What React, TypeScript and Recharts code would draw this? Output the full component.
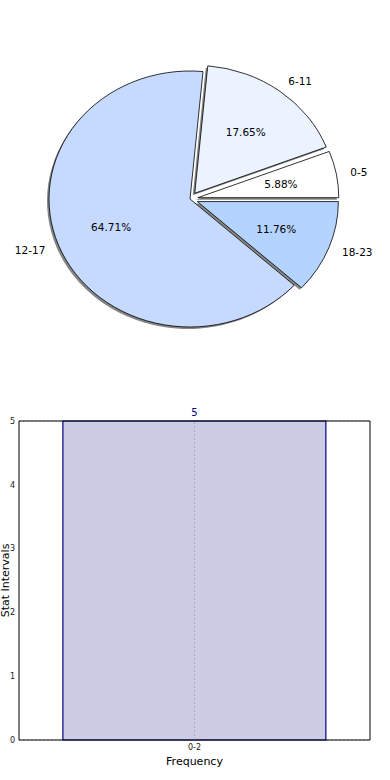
import React from 'react';
import {
  PieChart, Pie, BarChart, Bar, Line, XAxis, YAxis, CartesianGrid, LabelList, ReferenceLine,
} from 'recharts';

const categories = ['0-5', '6-11', '12-17', '18-23'];
const counts = [1, 3, 11, 2];
const barCategories = ['0-2'];
const barValues = [5];
const yTicks = [0, 1, 2, 3, 4, 5];

const sliceColors = ['#ffffff', '#ebf3ff', '#c6d9ff', '#b4d4ff'];
const explodeFrac = [0.056, 0.056, 0, 0.056];
const RX = 141;
const RY_RATIO = 128 / 141;
const CX = 190;
const CY = 199;
const SHADOW_DX = -2;
const SHADOW_DY = 2;
const FONT = '"DejaVu Sans", sans-serif';

const pieData = categories.map((name, i) => ({ name, value: counts[i] }));
const total = counts.reduce((a, b) => a + b, 0);
const barData = barCategories.map((name, i) => ({ name, value: barValues[i] }));

const RAD = Math.PI / 180;

function idxOf(p: any): number {
  const n = p?.name ?? p?.payload?.name;
  return categories.indexOf(n);
}

function explodeOffset(i: number, mid: number, rx: number) {
  const d = explodeFrac[i] * rx;
  return { ox: d * Math.cos(mid * RAD), oy: -d * RY_RATIO * Math.sin(mid * RAD) };
}

function ellipsePath(cx: number, cy: number, rx: number, ry: number, a0: number, a1: number) {
  const x0 = cx + rx * Math.cos(a0 * RAD);
  const y0 = cy - ry * Math.sin(a0 * RAD);
  const x1 = cx + rx * Math.cos(a1 * RAD);
  const y1 = cy - ry * Math.sin(a1 * RAD);
  const large = Math.abs(a1 - a0) > 180 ? 1 : 0;
  return `M${cx},${cy} L${x0},${y0} A${rx},${ry} 0 ${large} 0 ${x1},${y1} Z`;
}

function sectorGeom(p: any) {
  const i = idxOf(p);
  const a0 = p.startAngle;
  const a1 = p.endAngle;
  const mid = (a0 + a1) / 2;
  const rx = p.outerRadius;
  const { ox, oy } = explodeOffset(i, mid, rx);
  return { i, a0, a1, mid, rx, cx: p.cx + ox, cy: p.cy + oy };
}

const ShadowShape = (p: any) => {
  const g = sectorGeom(p);
  return (
    <path
      d={ellipsePath(g.cx + SHADOW_DX, g.cy + SHADOW_DY, g.rx, g.rx * RY_RATIO, g.a0, g.a1)}
      fill="#858585"
      stroke="none"
    />
  );
};

const SliceShape = (p: any) => {
  const g = sectorGeom(p);
  return (
    <path
      d={ellipsePath(g.cx, g.cy, g.rx, g.rx * RY_RATIO, g.a0, g.a1)}
      fill={sliceColors[g.i]}
      stroke="#000"
      strokeWidth={0.8}
      strokeLinejoin="miter"
    />
  );
};

const renderLabel = (p: any) => {
  const i = idxOf(p);
  const mid = p.midAngle;
  const rx = p.outerRadius;
  const ry = rx * RY_RATIO;
  const { ox, oy } = explodeOffset(i, mid, rx);
  const cx = p.cx + ox;
  const cy = p.cy + oy;
  const c = Math.cos(mid * RAD);
  const s = Math.sin(mid * RAD);
  const lx = cx + 1.1 * rx * c;
  const ly = cy - 1.1 * ry * s;
  const px = cx + 0.6 * rx * c;
  const py = cy - 0.6 * ry * s;
  const pct = ((counts[i] / total) * 100).toFixed(2) + '%';
  return (
    <g>
      <text x={lx} y={ly} textAnchor={c >= 0 ? 'start' : 'end'} dominantBaseline="central"
        fontSize={10.5} fontFamily={FONT} fill="#000">{categories[i]}</text>
      <text x={px} y={py} textAnchor="middle" dominantBaseline="central"
        fontSize={10.5} fontFamily={FONT} fill="#000">{pct}</text>
    </g>
  );
};

export default function App() {
  return (
    <div style={{ position: 'absolute', left: 0, top: 0, width: 390, height: 780, background: '#fff' }}>
      <div style={{ position: 'absolute', left: 0, top: 0 }}>
        <PieChart width={390} height={390} margin={{ top: 0, right: 0, bottom: 0, left: 0 }}>
          <Pie
            data={pieData}
            dataKey="value"
            nameKey="name"
            cx={CX}
            cy={CY}
            outerRadius={RX}
            startAngle={0}
            endAngle={360}
            isAnimationActive={false}
            shape={ShadowShape}
            labelLine={false}
            stroke="none"
          />
          <Pie
            data={pieData}
            dataKey="value"
            nameKey="name"
            cx={CX}
            cy={CY}
            outerRadius={RX}
            startAngle={0}
            endAngle={360}
            isAnimationActive={false}
            shape={SliceShape}
            label={renderLabel}
            labelLine={false}
          />
        </PieChart>
      </div>
      <div style={{ position: 'absolute', left: 0, top: 400 }}>
        <BarChart
          width={390}
          height={380}
          data={barData}
          margin={{ top: 20, right: 19, bottom: 0, left: 0 }}
          barCategoryGap="12.5%"
        >
          <CartesianGrid vertical={false} stroke="#b0b0b0" strokeDasharray="1.5 2.5" />
          <XAxis
            dataKey="name"
            xAxisId="bottom"
            height={40}
            axisLine={{ stroke: '#000', strokeWidth: 1 }}
            tickLine={false}
            tickSize={0}
            tickMargin={4}
            tick={{ fontSize: 8, fill: '#222', fontFamily: FONT }}
            label={{ value: 'Frequency', position: 'insideBottom', offset: 15, fontSize: 11, fill: '#000', fontFamily: FONT }}
          />
          <XAxis
            dataKey="name"
            xAxisId="top"
            orientation="top"
            height={1}
            axisLine={{ stroke: '#000', strokeWidth: 1 }}
            tick={false}
            tickLine={false}
          />
          <YAxis
            yAxisId="left"
            width={19}
            domain={[0, 5]}
            ticks={yTicks}
            axisLine={{ stroke: '#000', strokeWidth: 1 }}
            tickLine={false}
            tickSize={0}
            tickMargin={4}
            tick={{ fontSize: 8, fill: '#222', fontFamily: FONT }}
            label={{ value: 'Stat Intervals', angle: -90, position: 'insideLeft', offset: 5, fontSize: 11, fill: '#000', fontFamily: FONT, style: { textAnchor: 'middle' } }}
          />
          <YAxis
            yAxisId="right"
            orientation="right"
            width={1}
            domain={[0, 5]}
            ticks={yTicks}
            axisLine={{ stroke: '#000', strokeWidth: 1 }}
            tick={false}
            tickLine={false}
          />
          <Bar
            dataKey="value"
            xAxisId="bottom"
            yAxisId="left"
            fill="#ccccE4"
            stroke="#000080"
            strokeWidth={1.2}
            isAnimationActive={false}
          >
            <LabelList dataKey="value" position="top" offset={5} fill="#000080" fontSize={10} fontFamily={FONT} />
          </Bar>
          <Line
            dataKey="value"
            xAxisId="top"
            yAxisId="right"
            stroke="none"
            strokeWidth={0}
            dot={{ r: 0, fill: 'none', stroke: 'none' }}
            activeDot={false}
            legendType="none"
            isAnimationActive={false}
          />
          <ReferenceLine x="0-2" xAxisId="bottom" yAxisId="left" stroke="#a0a0a0" strokeDasharray="1.5 2.5" />
        </BarChart>
      </div>
    </div>
  );
}
